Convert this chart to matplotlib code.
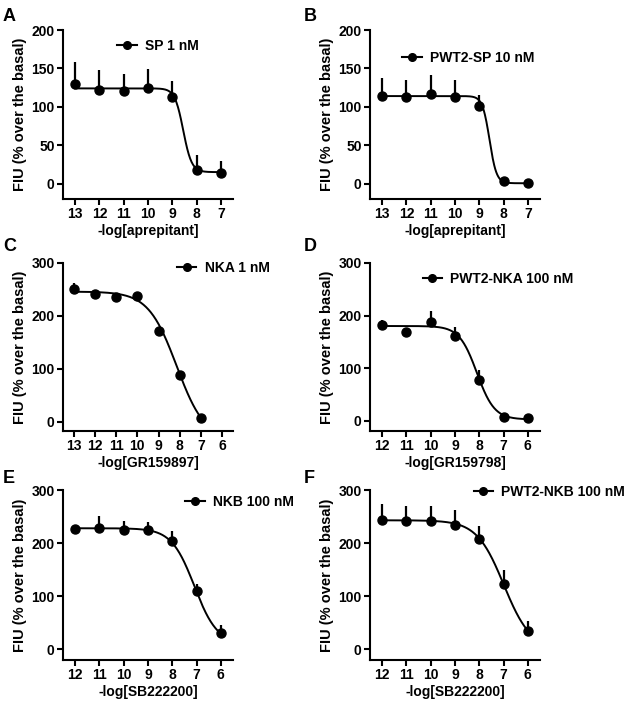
import numpy as np
import matplotlib
matplotlib.use('Agg')
import matplotlib.pyplot as plt
from matplotlib.lines import Line2D

plt.rcParams['font.family'] = ['Liberation Sans', 'DejaVu Sans']
plt.rcParams['font.weight'] = 'bold'

W, H = 629, 701
dpi = 100

# panel A: SP 1 nM vs aprepitant
a_x = [13, 12, 11, 10, 9, 8, 7]
a_y = [130, 122, 121, 124, 113, 18, 14]
a_err = [28, 26, 22, 25, 20, 19, 16]
a_fit = (124, 15, 8.55, 2.5)   # top, bottom, pIC50, hill

# panel B: PWT2-SP 10 nM vs aprepitant
b_x = [13, 12, 11, 10, 9, 8, 7]
b_y = [114, 113, 117, 113, 101, 3.5, 1]
b_err = [23, 22, 24, 22, 14, 0, 0]
b_fit = (114, 0.5, 8.58, 3.0)

# panel C: NKA 1 nM vs GR159897
c_x = [13, 12, 11, 10, 9, 8, 7]
c_y = [251, 242, 236, 238, 171, 89, 8]
c_err = [12, 6, 0, 5, 0, 0, 0]
c_fit = (246, -35, 8.15, 0.65)

# panel D: PWT2-NKA 100 nM vs GR159798
d_x = [12, 11, 10, 9, 8, 7, 6]
d_y = [182, 168, 188, 161, 78, 7, 4]
d_err = [10, 0, 20, 18, 19, 0, 0]
d_fit = (180, 2, 8.1, 1.2)

# panel E: NKB 100 nM vs SB222200
e_x = [12, 11, 10, 9, 8, 7, 6]
e_y = [227, 228, 225, 224, 204, 109, 30]
e_err = [6, 24, 17, 16, 19, 15, 15]
e_fit = (228, 10, 7.09, 0.92)

# panel F: PWT2-NKB 100 nM vs SB222200
f_x = [12, 11, 10, 9, 8, 7, 6]
f_y = [243, 242, 242, 235, 208, 123, 35]
f_err = [30, 27, 27, 27, 25, 26, 18]
f_fit = (243, 0, 6.99, 0.78)

labels = ['SP 1 nM', 'PWT2-SP 10 nM', 'NKA 1 nM', 'PWT2-NKA 100 nM',
          'NKB 100 nM', 'PWT2-NKB 100 nM']
xlabels = ['-log[aprepitant]', '-log[aprepitant]', '-log[GR159897]',
           '-log[GR159798]', '-log[SB222200]', '-log[SB222200]']
letters = ['A', 'B', 'C', 'D', 'E', 'F']


def sigmoid(p, top, bottom, pic50, hill):
    return bottom + (top - bottom) / (1 + 10 ** (hill * (pic50 - p)))


fig = plt.figure(figsize=(W / dpi, H / dpi), dpi=dpi)

# axes boxes in pixels: left, top, right, bottom
cols = [(63, 233), (370, 540)]
rows = [(30, 199), (263, 431), (490, 660)]

panels = [
    (a_x, a_y, a_err, a_fit, (13.5, 6.5), (-20, 200), [0, 50, 100, 150, 200], (0.32, 0.905)),
    (b_x, b_y, b_err, b_fit, (13.5, 6.5), (-20, 200), [0, 50, 100, 150, 200], (0.19, 0.834)),
    (c_x, c_y, c_err, c_fit, (13.5, 5.5), (-17, 300), [0, 100, 200, 300], (0.67, 0.97)),
    (d_x, d_y, d_err, d_fit, (12.5, 5.5), (-20, 300), [0, 100, 200, 300], (0.31, 0.905)),
    (e_x, e_y, e_err, e_fit, (12.5, 5.5), (-20, 300), [0, 100, 200, 300], (0.72, 0.93)),
    (f_x, f_y, f_err, f_fit, (12.5, 5.5), (-20, 300), [0, 100, 200, 300], (0.61, 0.99)),
]

for i, (xs, ys, errs, fit, xlim, ylim, yticks, leg_pos) in enumerate(panels):
    l, r = cols[i % 2]
    t, b = rows[i // 2]
    ax = fig.add_axes([l / W, (H - b) / H, (r - l) / W, (b - t) / H])

    xs = np.array(xs, dtype=float)
    ys = np.array(ys, dtype=float)
    errs = np.array(errs, dtype=float)

    ax.errorbar(xs, ys, yerr=[np.zeros_like(errs), errs], fmt='none',
                ecolor='black', elinewidth=1.6, capsize=0)
    px = np.linspace(xs.max(), xs.min(), 300)
    ax.plot(px, sigmoid(px, *fit), color='black', lw=1.4)
    ax.plot(xs, ys, 'o', color='black', ms=6.5)

    ax.set_xlim(*xlim)
    ax.set_ylim(*ylim)
    ax.set_xticks(np.arange(int(xlim[0] - 0.5), int(xlim[1] + 0.5) - 1, -1))
    ax.set_yticks(yticks)
    ax.spines['top'].set_visible(False)
    ax.spines['right'].set_visible(False)
    ax.spines['left'].set_linewidth(1.5)
    ax.spines['bottom'].set_linewidth(1.5)
    ax.tick_params(width=1.5, length=4, labelsize=10, pad=2)
    for lab in ax.get_xticklabels() + ax.get_yticklabels():
        lab.set_fontweight('bold')
    ax.set_xlabel(xlabels[i], fontsize=10, fontweight='bold', labelpad=2)
    ax.set_ylabel('FIU (% over the basal)', fontsize=10.5, fontweight='bold', labelpad=3)

    handle = Line2D([], [], color='black', marker='o', ms=5.5, lw=1.5)
    ax.legend([handle], [labels[i]], loc='center left', bbox_to_anchor=leg_pos,
              frameon=False, borderpad=0, borderaxespad=0, handlelength=1.4,
              handletextpad=0.6, prop={'weight': 'bold', 'size': 10})

    lx = 3 if i % 2 == 0 else 304
    ly = [8, 238, 470][i // 2]
    fig.text(lx / W, 1 - ly / H, letters[i], fontsize=13, fontweight='bold',
             ha='left', va='top')

fig.savefig('out.png', dpi=dpi)
